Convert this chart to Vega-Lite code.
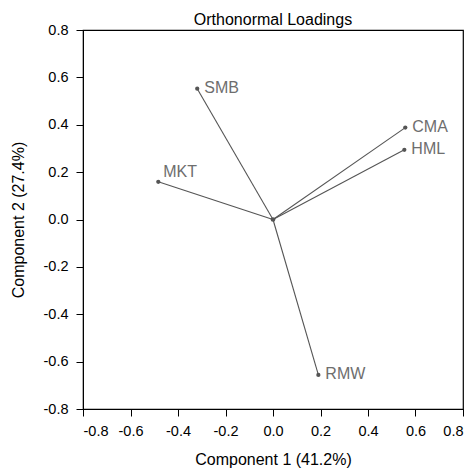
{
  "$schema": "https://vega.github.io/schema/vega-lite/v6.json",
  "width": 380,
  "height": 379,
  "autosize": "none",
  "padding": {"left": 83, "top": 30, "right": 11, "bottom": 60},
  "background": "white",
  "title": {"text": "Orthonormal Loadings", "fontSize": 16, "fontWeight": "normal", "font": "Liberation Sans", "color": "black", "offset": -6},
  "config": {
    "font": "Liberation Sans",
    "view": {"stroke": "black", "strokeWidth": 1.2},
    "axis": {
      "grid": false,
      "domainColor": "black",
      "tickColor": "black",
      "tickSize": 7,
      "labelColor": "black",
      "labelFontSize": 14.5,
      "labelPadding": 8,
      "titleFontSize": 16,
      "titleFontWeight": "normal",
      "titleColor": "black"
    },
    "axisX": {"titlePadding": 14},
    "axisY": {"titlePadding": 17}
  },
  "data": {
    "values": [
      {"name": "SMB", "x": -0.319, "y": 0.552},
      {"name": "CMA", "x": 0.557, "y": 0.388},
      {"name": "HML", "x": 0.553, "y": 0.294},
      {"name": "MKT", "x": -0.483, "y": 0.159},
      {"name": "RMW", "x": 0.191, "y": -0.656}
    ]
  },
  "encoding": {
    "x": {
      "field": "x", "type": "quantitative",
      "scale": {"domain": [-0.8, 0.8], "nice": false, "zero": false},
      "axis": {"values": [-0.8, -0.6, -0.4, -0.2, 0, 0.2, 0.4, 0.6, 0.8], "labelExpr": "replace(format(datum.value, '.1f'), '\u2212', '-')", "title": "Component 1 (41.2%)"}
    },
    "y": {
      "field": "y", "type": "quantitative",
      "scale": {"domain": [-0.8, 0.8], "nice": false, "zero": false},
      "axis": {"values": [-0.8, -0.6, -0.4, -0.2, 0, 0.2, 0.4, 0.6, 0.8], "labelExpr": "replace(format(datum.value, '.1f'), '\u2212', '-')", "title": "Component 2 (27.4%)"}
    }
  },
  "layer": [
    {
      "mark": {"type": "rule", "color": "#555555", "strokeWidth": 1.1},
      "encoding": {"x2": {"datum": 0}, "y2": {"datum": 0}}
    },
    {
      "mark": {"type": "point", "filled": true, "size": 18, "color": "#555555", "opacity": 1}
    },
    {
      "data": {"values": [{"x": 0, "y": 0}]},
      "mark": {"type": "point", "filled": true, "size": 22, "color": "#555555", "opacity": 1}
    },
    {
      "transform": [{"filter": "datum.name !== 'MKT'"}],
      "mark": {"type": "text", "align": "left", "baseline": "middle", "dx": 7, "dy": -1, "fontSize": 16, "color": "#6e6e6e"},
      "encoding": {"text": {"field": "name"}}
    },
    {
      "transform": [{"filter": "datum.name === 'MKT'"}],
      "mark": {"type": "text", "align": "left", "baseline": "middle", "dx": 5, "dy": -10, "fontSize": 16, "color": "#6e6e6e"},
      "encoding": {"text": {"field": "name"}}
    }
  ]
}
